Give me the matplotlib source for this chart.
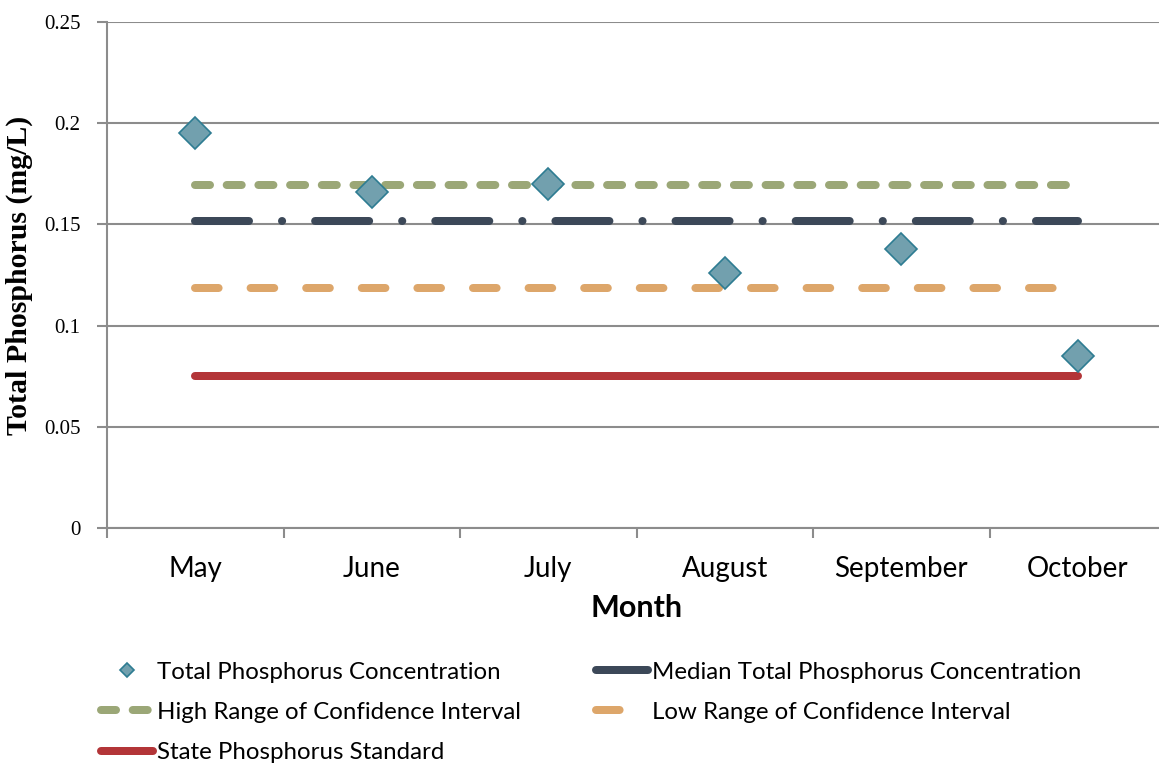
import matplotlib
matplotlib.use('Agg')
import matplotlib.pyplot as plt
import numpy as np

# data
months = ['May', 'June', 'July', 'August', 'September', 'October']
tp_conc = [0.195, 0.166, 0.170, 0.126, 0.138, 0.085]
median_tp = 0.1515
high_ci = 0.1695
low_ci = 0.1185
state_std = 0.075
yticks = [0, 0.05, 0.1, 0.15, 0.2, 0.25]
ytick_labels = ['0', '0.05', '0.1', '0.15', '0.2', '0.25']

plt.rcParams['lines.scale_dashes'] = False
px = 0.72  # points per pixel at dpi 100

fig = plt.figure(figsize=(11.59, 7.65), dpi=100)
ax = fig.add_axes([107/1159, 1 - 528/765, (1166 - 107)/1159, (528 - 22)/765])

x = np.arange(len(months))
lw = 8 * px

# horizontal reference lines
ax.plot(x, [high_ci]*len(x), color='#9BA777', lw=lw, solid_capstyle='round',
        dash_capstyle='round', dashes=(15*px, 16.7*px), label='High Range of Confidence Interval', zorder=2)
ax.plot(x, [median_tp]*len(x), color='#3C4858', lw=lw, dash_capstyle='round',
        dashes=(54*px, 33*px, 0.1, 33*px), label='Median Total Phosphorus Concentration', zorder=2)
ax.plot(x, [low_ci]*len(x), color='#DDA66A', lw=lw, dash_capstyle='round',
        dashes=(23.6*px, 32*px), label='Low Range of Confidence Interval', zorder=2)
ax.plot(x, [state_std]*len(x), color='#B33538', lw=lw, solid_capstyle='round',
        label='State Phosphorus Standard', zorder=2)
ax.plot(x, tp_conc, ls='none', marker='D', ms=23.3*px, mfc='#72A0AE', mec='#2E7C92',
        mew=1.2, label='Total Phosphorus Concentration', zorder=3)

ax.set_xlim(-0.5, 5.5)
ax.set_ylim(0, 0.25)
ax.set_yticks(yticks)
ax.set_yticklabels(ytick_labels, fontfamily='Liberation Serif', fontsize=15)
ax.set_xticks(x)
ax.set_xticklabels(months, fontfamily='Lato', fontsize=20)
ax.set_xticks(np.arange(-0.5, 6, 1), minor=True)
ax.tick_params(axis='x', which='major', length=0, pad=20)
ax.tick_params(axis='x', which='minor', length=7, color='#8C8C8C', width=1.5)
ax.tick_params(axis='y', length=7, color='#8C8C8C', width=1.5, pad=12)

ax.grid(axis='y', color='#8C8C8C', lw=1.5, zorder=0)
ax.set_axisbelow(True)
for s in ['top', 'right']:
    ax.spines[s].set_visible(False)
for s in ['left', 'bottom']:
    ax.spines[s].set_color('#8C8C8C')
    ax.spines[s].set_linewidth(1.5)

ax.set_xlabel('Month', fontfamily='Lato', fontweight='bold', fontsize=22, labelpad=9)
ax.set_ylabel('Total Phosphorus (mg/L)', fontfamily='Liberation Serif', fontweight='bold',
              fontsize=21.5, labelpad=8)

h, l = ax.get_legend_handles_labels()
order = [4, 0, 3, 1, 2]
fig.legend([h[i] for i in order], [l[i] for i in order], ncol=2, frameon=False,
           loc='upper left', bbox_to_anchor=(79/1159, 1 - 640/765),
           prop={'family': 'Lato', 'size': 17.3}, numpoints=1, markerscale=0.4,
           handlelength=2.2, handletextpad=0.15, columnspacing=3.1, labelspacing=0.8)

plt.savefig('out.png', dpi=100)
